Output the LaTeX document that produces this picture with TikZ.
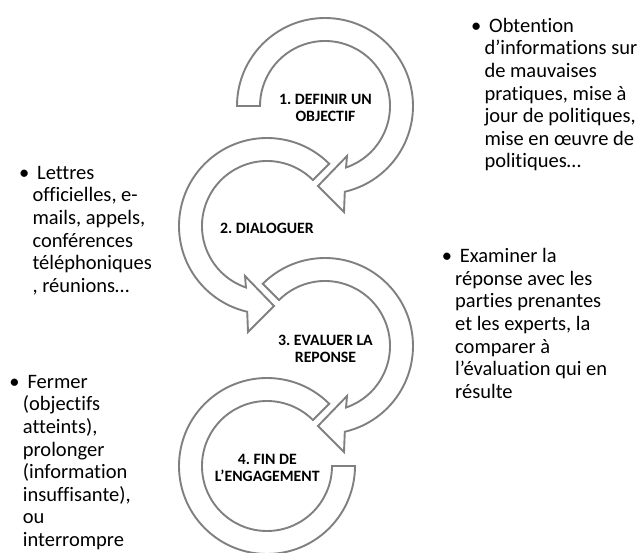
\documentclass[tikz,border=0pt]{standalone}
\usepackage{fontspec}
\setmainfont{Carlito}[Ligatures=NoCommon]
\usetikzlibrary{calc}
\definecolor{ringgray}{HTML}{808080}
\newcommand{\bfirst}{\llap{•\hspace{3.2pt}}\hspace{4.7pt}}
\frenchspacing
\begin{document}
\begin{tikzpicture}[x=1pt,y=-1pt,
  ringshape/.style={draw=ringgray,line width=1.9pt,fill=white,line join=miter},
  ringlabel/.style={font=\frenchspacing\fontsize{15.8}{17.3}\selectfont\bfseries,align=center,inner sep=0pt},
  bullettext/.style={font=\frenchspacing\fontsize{20.5}{22.6}\selectfont,align=left,inner sep=0pt,anchor=base west}]
\useasboundingbox[fill=white] (0,0) rectangle (643,553);
\coordinate (c1) at (325,106);
\coordinate (c2) at (267,226);
\coordinate (c3) at (325,346);
\coordinate (c4) at (267,466);
% ring 1
\draw[ringshape] ($(c1)+(180:88)$) arc[start angle=180,end angle=437,radius=88]
  -- ($(c1)+(19,106)$) -- ($(c1)+(-7,80)$) -- ($(c1)+(22,50)$)
  -- ($(c1)+(71.1:65)$) arc[start angle=431.1,end angle=180,radius=65] -- cycle;
% ring 2
\draw[ringshape] ($(c2)+(-45:88)$) arc[start angle=-45,end angle=-257,radius=88]
  -- ($(c2)+(-19,106)$) -- ($(c2)+(7,80)$) -- ($(c2)+(-22,50)$)
  -- ($(c2)+(108.9:65)$) arc[start angle=108.9,end angle=315,radius=65] -- cycle;
% ring 3
\draw[ringshape] ($(c3)+(225:88)$) arc[start angle=225,end angle=437,radius=88]
  -- ($(c3)+(19,106)$) -- ($(c3)+(-7,80)$) -- ($(c3)+(22,50)$)
  -- ($(c3)+(71.1:65)$) arc[start angle=431.1,end angle=225,radius=65] -- cycle;
% ring 4
\draw[ringshape] ($(c4)+(-45:88)$) arc[start angle=-45,end angle=-360,radius=88]
  -- ($(c4)+(0:65)$) arc[start angle=-360,end angle=-45,radius=65] -- cycle;
% labels
\node[ringlabel] (l1) at (325.5,108) {1. DEFINIR UN\\OBJECTIF};
\node[ringlabel] (l2) at (267,228) {2. DIALOGUER};
\node[ringlabel] (l3) at (325.5,348.7) {3. EVALUER LA\\REPONSE};
\node[ringlabel] (l4) at (267.3,468) {4. FIN DE\\L’ENGAGEMENT};
% side texts (anchored at the baseline of the last line)
\node[bullettext] (t1) at (484.3,167.9) {\bfirst Obtention\\d’informations sur\\de mauvaises\\pratiques, mise à\\jour de politiques,\\mise en œuvre de\\politiques…};
\node[bullettext] (t2) at (32.3,292.3) {\bfirst Lettres\\officielles, e-\\mails, appels,\\conférences\\téléphoniques\\, réunions…};
\node[bullettext] (t3) at (455,398.3) {\bfirst Examiner la\\réponse avec les\\parties prenantes\\et les experts, la\\comparer à\\l’évaluation qui en\\résulte};
\node[bullettext] (t4) at (22.7,546.5) {\bfirst Fermer\\(objectifs\\atteints),\\prolonger\\(information\\insuffisante),\\ou\\interrompre};
\end{tikzpicture}
\end{document}
